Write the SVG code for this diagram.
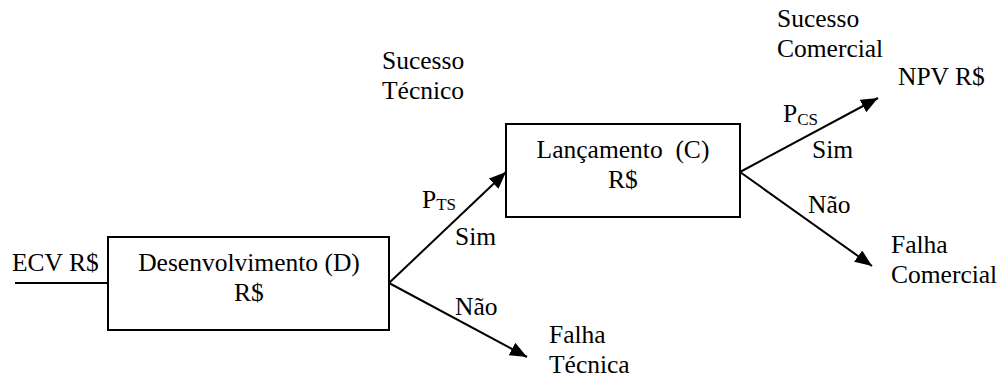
<svg xmlns="http://www.w3.org/2000/svg" width="1001" height="378" viewBox="0 0 1001 378">
<style>
text{font-family:"Liberation Serif","Times New Roman",serif;font-size:25.5px;fill:#000;white-space:pre}
.c{text-anchor:middle}
.sub{font-size:17px}
.box{fill:#fff;stroke:#000;stroke-width:2}
.ln{stroke:#000;stroke-width:2;fill:none}
</style>
<defs>
<marker id="ah" markerUnits="userSpaceOnUse" markerWidth="18" markerHeight="14" refX="17" refY="7" orient="auto">
<path d="M0,0 L17,7 L0,14 z" fill="#000"/>
</marker>
</defs>
<g id="connectors">
<line class="ln" x1="15" y1="283" x2="108" y2="283"/>
<line class="ln" x1="389" y1="283" x2="506" y2="172" marker-end="url(#ah)"/>
<line class="ln" x1="389" y1="283" x2="527" y2="357" marker-end="url(#ah)"/>
<line class="ln" x1="740" y1="172" x2="878" y2="98" marker-end="url(#ah)"/>
<line class="ln" x1="740" y1="172" x2="872" y2="266" marker-end="url(#ah)"/>
</g>
<g id="input"><text x="12" y="271">ECV R$</text></g>
<g id="nodeD">
<rect class="box" x="108" y="237" width="281" height="93"/>
<text class="c" x="249" y="271">Desenvolvimento (D)</text>
<text class="c" x="249" y="301">R$</text>
</g>
<g id="nodeC">
<rect class="box" x="506" y="124" width="234" height="93"/>
<text class="c" x="623" y="158">Lançamento  (C)</text>
<text class="c" x="623" y="188">R$</text>
</g>
<g id="labels">
<text x="382" y="69">Sucesso</text>
<text x="382" y="99">Técnico</text>
<text x="422" y="208">P<tspan class="sub" dy="2">TS</tspan></text>
<text x="455" y="245">Sim</text>
<text x="455" y="315">Não</text>
<text x="777" y="27">Sucesso</text>
<text x="777" y="57">Comercial</text>
<text x="783" y="122">P<tspan class="sub" dy="3">CS</tspan></text>
<text x="812" y="158">Sim</text>
<text x="808" y="213">Não</text>
</g>
<g id="outNPV"><text x="898" y="85">NPV R$</text></g>
<g id="outFC">
<text x="891" y="253">Falha</text>
<text x="891" y="283">Comercial</text>
</g>
<g id="outFT">
<text x="549" y="343">Falha</text>
<text x="549" y="373">Técnica</text>
</g>
</svg>
